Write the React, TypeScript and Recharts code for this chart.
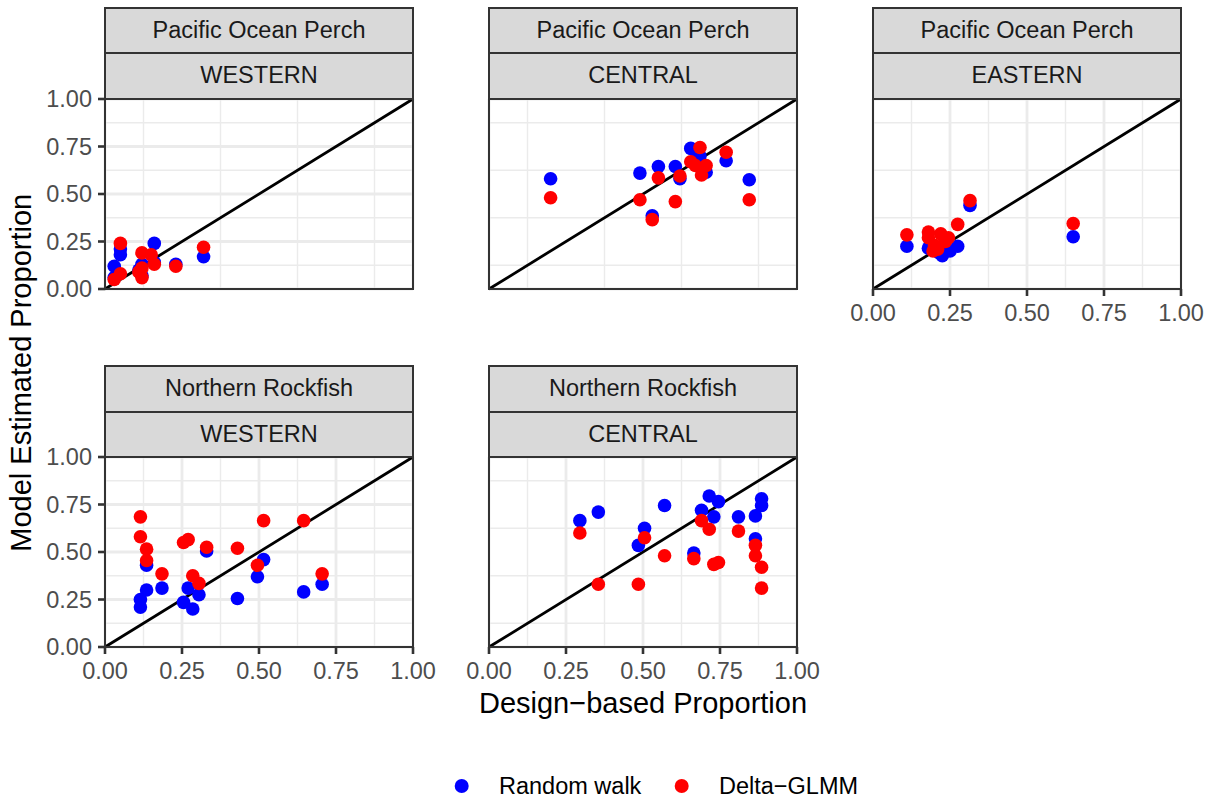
import React from 'react';
import { ScatterChart, Scatter, XAxis, YAxis, CartesianGrid, ReferenceLine } from 'recharts';

const FONT = '"Liberation Sans", Arial, Helvetica, sans-serif';

// ---- categories / ticks ----
const species = ['Pacific Ocean Perch', 'Northern Rockfish'];
const areas = ['WESTERN', 'CENTRAL', 'EASTERN'];
const seriesNames = ['Random walk', 'Delta\u2212GLMM'];
const seriesColors = ['#0000FF', '#FF0000'];
const majorTicks = [0, 0.25, 0.5, 0.75, 1];
const minorTicks = [0.125, 0.375, 0.625, 0.875];

// ---- data: Pacific Ocean Perch ----
const popWesternRW = [
  { x: 0.03, y: 0.12 }, { x: 0.05, y: 0.18 }, { x: 0.05, y: 0.21 }, { x: 0.16, y: 0.24 },
  { x: 0.12, y: 0.13 }, { x: 0.12, y: 0.07 }, { x: 0.16, y: 0.14 }, { x: 0.23, y: 0.13 },
  { x: 0.32, y: 0.17 }, { x: 0.03, y: 0.06 }, { x: 0.11, y: 0.1 },
];
const popWesternDG = [
  { x: 0.05, y: 0.24 }, { x: 0.05, y: 0.08 }, { x: 0.03, y: 0.05 }, { x: 0.12, y: 0.19 },
  { x: 0.15, y: 0.18 }, { x: 0.16, y: 0.13 }, { x: 0.11, y: 0.09 }, { x: 0.12, y: 0.06 },
  { x: 0.12, y: 0.11 }, { x: 0.23, y: 0.12 }, { x: 0.32, y: 0.22 },
];
const popCentralRW = [
  { x: 0.2, y: 0.58 }, { x: 0.49, y: 0.61 }, { x: 0.55, y: 0.645 }, { x: 0.605, y: 0.645 },
  { x: 0.62, y: 0.58 }, { x: 0.655, y: 0.74 }, { x: 0.685, y: 0.7 }, { x: 0.705, y: 0.615 },
  { x: 0.77, y: 0.675 }, { x: 0.845, y: 0.575 }, { x: 0.53, y: 0.385 }, { x: 0.675, y: 0.72 },
];
const popCentralDG = [
  { x: 0.2, y: 0.48 }, { x: 0.49, y: 0.47 }, { x: 0.53, y: 0.365 }, { x: 0.55, y: 0.585 },
  { x: 0.605, y: 0.46 }, { x: 0.62, y: 0.595 }, { x: 0.655, y: 0.67 }, { x: 0.685, y: 0.745 },
  { x: 0.67, y: 0.65 }, { x: 0.705, y: 0.65 }, { x: 0.69, y: 0.6 }, { x: 0.77, y: 0.72 },
  { x: 0.845, y: 0.47 },
];
const popEasternRW = [
  { x: 0.11, y: 0.225 }, { x: 0.18, y: 0.215 }, { x: 0.225, y: 0.175 }, { x: 0.25, y: 0.2 },
  { x: 0.275, y: 0.225 }, { x: 0.315, y: 0.44 }, { x: 0.65, y: 0.275 }, { x: 0.2, y: 0.22 },
  { x: 0.215, y: 0.19 },
];
const popEasternDG = [
  { x: 0.11, y: 0.285 }, { x: 0.18, y: 0.3 }, { x: 0.18, y: 0.27 }, { x: 0.22, y: 0.29 },
  { x: 0.245, y: 0.27 }, { x: 0.2, y: 0.23 }, { x: 0.195, y: 0.2 }, { x: 0.275, y: 0.34 },
  { x: 0.315, y: 0.465 }, { x: 0.65, y: 0.345 }, { x: 0.235, y: 0.25 }, { x: 0.21, y: 0.21 },
];

// ---- data: Northern Rockfish ----
const nrWesternRW = [
  { x: 0.115, y: 0.25 }, { x: 0.115, y: 0.21 }, { x: 0.135, y: 0.3 }, { x: 0.135, y: 0.43 },
  { x: 0.185, y: 0.31 }, { x: 0.255, y: 0.235 }, { x: 0.27, y: 0.31 }, { x: 0.285, y: 0.2 },
  { x: 0.305, y: 0.275 }, { x: 0.33, y: 0.505 }, { x: 0.43, y: 0.255 }, { x: 0.495, y: 0.37 },
  { x: 0.515, y: 0.46 }, { x: 0.645, y: 0.29 }, { x: 0.705, y: 0.33 },
];
const nrWesternDG = [
  { x: 0.115, y: 0.685 }, { x: 0.115, y: 0.58 }, { x: 0.135, y: 0.515 }, { x: 0.135, y: 0.455 },
  { x: 0.185, y: 0.385 }, { x: 0.255, y: 0.55 }, { x: 0.27, y: 0.565 }, { x: 0.285, y: 0.375 },
  { x: 0.305, y: 0.335 }, { x: 0.33, y: 0.525 }, { x: 0.43, y: 0.52 }, { x: 0.495, y: 0.43 },
  { x: 0.515, y: 0.665 }, { x: 0.645, y: 0.665 }, { x: 0.705, y: 0.385 },
];
const nrCentralRW = [
  { x: 0.295, y: 0.665 }, { x: 0.355, y: 0.71 }, { x: 0.485, y: 0.535 }, { x: 0.505, y: 0.625 },
  { x: 0.57, y: 0.745 }, { x: 0.665, y: 0.495 }, { x: 0.69, y: 0.72 }, { x: 0.715, y: 0.795 },
  { x: 0.745, y: 0.765 }, { x: 0.73, y: 0.685 }, { x: 0.81, y: 0.685 }, { x: 0.865, y: 0.69 },
  { x: 0.885, y: 0.78 }, { x: 0.885, y: 0.745 }, { x: 0.865, y: 0.57 },
];
const nrCentralDG = [
  { x: 0.295, y: 0.6 }, { x: 0.355, y: 0.33 }, { x: 0.485, y: 0.33 }, { x: 0.505, y: 0.575 },
  { x: 0.57, y: 0.48 }, { x: 0.665, y: 0.465 }, { x: 0.69, y: 0.665 }, { x: 0.715, y: 0.62 },
  { x: 0.73, y: 0.435 }, { x: 0.745, y: 0.445 }, { x: 0.81, y: 0.61 }, { x: 0.865, y: 0.535 },
  { x: 0.865, y: 0.48 }, { x: 0.885, y: 0.42 }, { x: 0.885, y: 0.31 },
];

const panels = [
  { sp: 0, ar: 0, col: 0, row: 0, rw: popWesternRW, dg: popWesternDG, showX: false, showY: true },
  { sp: 0, ar: 1, col: 1, row: 0, rw: popCentralRW, dg: popCentralDG, showX: false, showY: false },
  { sp: 0, ar: 2, col: 2, row: 0, rw: popEasternRW, dg: popEasternDG, showX: true, showY: false },
  { sp: 1, ar: 0, col: 0, row: 1, rw: nrWesternRW, dg: nrWesternDG, showX: true, showY: true },
  { sp: 1, ar: 1, col: 1, row: 1, rw: nrCentralRW, dg: nrCentralDG, showX: true, showY: false },
];

// ---- layout ----
const COL_LEFT = [105, 489, 873];
const ROW_TOP = [98.5, 457];
const PW = 308;
const PH = 190;
const YW = 80;
const XH = 60;
const MT = 20;
const MR = 30;
const STRIP_H = 45.5;
const BORDER = '#333333';
const TICK_FS = 23.5;

const fmt = (v: number) => v.toFixed(2);

function dot(color: string) {
  return (p: any) => <circle cx={p.cx} cy={p.cy} r={6.8} fill={color} />;
}

function Panel(props: any) {
  const { plotLeft, plotTop, rw, dg, showX, showY, strip1, strip2 } = props;
  const tickStyle = { fontSize: TICK_FS, fill: '#4D4D4D', fontFamily: FONT };
  const tickLine = { stroke: BORDER, strokeWidth: 2.6 };
  const stripBase: React.CSSProperties = {
    position: 'absolute',
    left: plotLeft - 1,
    width: PW + 2,
    height: STRIP_H + 2,
    boxSizing: 'border-box',
    border: `2px solid ${BORDER}`,
    background: '#D9D9D9',
    display: 'flex',
    alignItems: 'center',
    justifyContent: 'center',
    fontFamily: FONT,
    fontSize: TICK_FS,
    color: '#1A1A1A',
  };
  return (
    <>
      <div style={{ position: 'absolute', left: plotLeft - YW, top: plotTop - MT }}>
        <ScatterChart
          width={YW + PW + MR}
          height={MT + PH + XH}
          margin={{ top: MT, right: MR, bottom: 0, left: 0 }}
        >
          <XAxis xAxisId="minor" type="number" dataKey="x" domain={[0, 1]} ticks={minorTicks} hide allowDataOverflow />
          <YAxis yAxisId="minor" type="number" dataKey="y" domain={[0, 1]} ticks={minorTicks} hide allowDataOverflow />
          <CartesianGrid xAxisId="minor" yAxisId="minor" stroke="#EBEBEB" strokeWidth={1.4} />
          <CartesianGrid stroke="#EBEBEB" strokeWidth={2.8} />
          <XAxis
            type="number"
            dataKey="x"
            domain={[0, 1]}
            ticks={majorTicks}
            allowDataOverflow
            interval={0}
            height={XH}
            axisLine={false}
            tick={showX ? tickStyle : false}
            tickLine={showX ? tickLine : false}
            tickSize={7}
            tickMargin={8}
            tickFormatter={fmt}
          />
          <YAxis
            type="number"
            dataKey="y"
            domain={[0, 1]}
            ticks={majorTicks}
            allowDataOverflow
            interval={0}
            width={YW}
            axisLine={false}
            tick={showY ? tickStyle : false}
            tickLine={showY ? tickLine : false}
            tickSize={7}
            tickMargin={6}
            tickFormatter={fmt}
          />
          <ReferenceLine
            segment={[{ x: 0, y: 0 }, { x: 1, y: 1 }]}
            stroke="#000000"
            strokeWidth={2.8}
            ifOverflow="visible"
          />
          <Scatter name={seriesNames[0]} data={rw} fill={seriesColors[0]} shape={dot(seriesColors[0])} isAnimationActive={false} />
          <Scatter name={seriesNames[1]} data={dg} fill={seriesColors[1]} shape={dot(seriesColors[1])} isAnimationActive={false} />
        </ScatterChart>
      </div>
      <div style={{ ...stripBase, top: plotTop - 2 * STRIP_H - 1 }}>{strip1}</div>
      <div style={{ ...stripBase, top: plotTop - STRIP_H - 1 }}>{strip2}</div>
      <div
        style={{
          position: 'absolute',
          left: plotLeft - 1,
          top: plotTop - 1,
          width: PW + 2,
          height: PH + 2,
          boxSizing: 'border-box',
          border: `2px solid ${BORDER}`,
          pointerEvents: 'none',
        }}
      />
    </>
  );
}

export default function App() {
  const plotAreaLeft = COL_LEFT[0];
  const plotAreaRight = COL_LEFT[2] + PW;
  const yMid = (ROW_TOP[0] + ROW_TOP[1] + PH) / 2;
  return (
    <div
      style={{
        position: 'absolute',
        left: 0,
        top: 0,
        width: 1214,
        height: 799,
        background: '#FFFFFF',
        overflow: 'hidden',
      }}
    >
      {panels.map((p, i) => (
        <Panel
          key={i}
          plotLeft={COL_LEFT[p.col]}
          plotTop={ROW_TOP[p.row]}
          rw={p.rw}
          dg={p.dg}
          showX={p.showX}
          showY={p.showY}
          strip1={species[p.sp]}
          strip2={areas[p.ar]}
        />
      ))}
      <svg
        width={1214}
        height={799}
        style={{ position: 'absolute', left: 0, top: 0, pointerEvents: 'none' }}
      >
        <text
          x={(plotAreaLeft + plotAreaRight) / 2}
          y={713}
          textAnchor="middle"
          fontFamily={FONT}
          fontSize={29}
          fill="#000000"
        >
          Design{'\u2212'}based Proportion
        </text>
        <text
          transform={`translate(31, ${yMid}) rotate(-90)`}
          textAnchor="middle"
          fontFamily={FONT}
          fontSize={29}
          fill="#000000"
        >
          Model Estimated Proportion
        </text>
        <circle cx={461.7} cy={786} r={7} fill={seriesColors[0]} />
        <text x={499} y={794} fontFamily={FONT} fontSize={TICK_FS} fill="#000000">
          {seriesNames[0]}
        </text>
        <circle cx={681.7} cy={786} r={7} fill={seriesColors[1]} />
        <text x={719} y={794} fontFamily={FONT} fontSize={TICK_FS} fill="#000000">
          {seriesNames[1]}
        </text>
      </svg>
    </div>
  );
}
